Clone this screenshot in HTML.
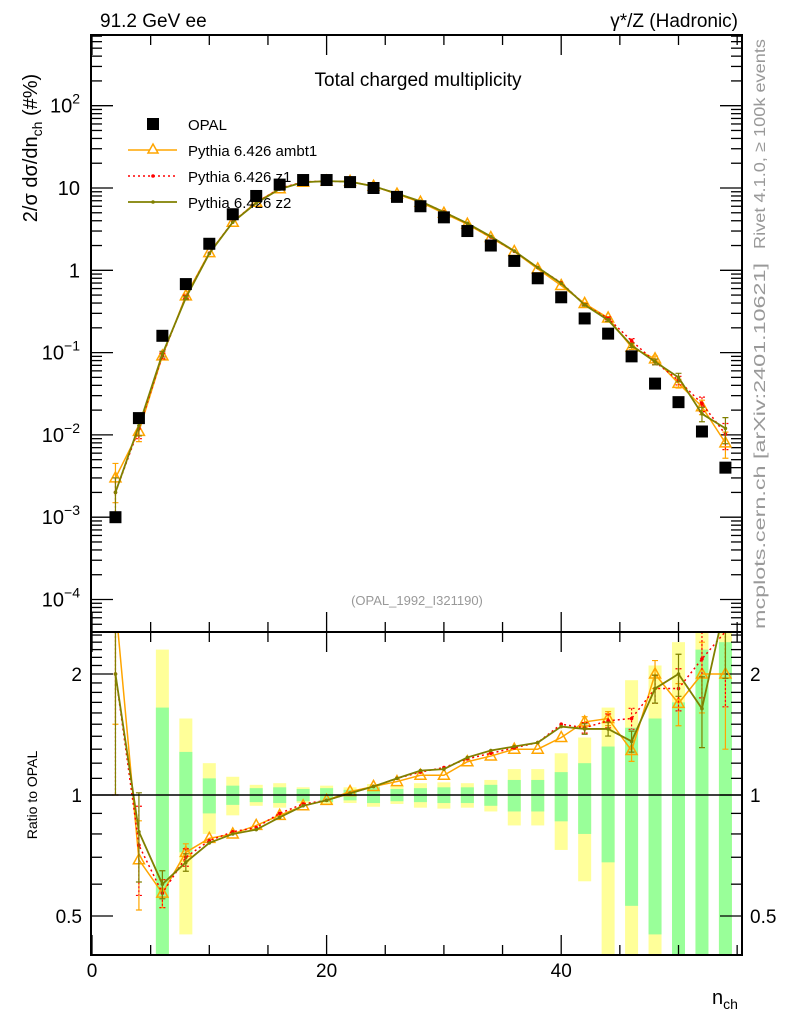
<!DOCTYPE html>
<html><head><meta charset="utf-8"><style>
body{margin:0;background:#fff}
svg{display:block;font-family:"Liberation Sans",sans-serif}
</style></head><body>
<svg id="chart" width="786" height="1024" viewBox="0 0 786 1024" xmlns="http://www.w3.org/2000/svg">
<g id="bands"></g>
<g id="ticks"></g>
<g id="series"></g>
<rect x="91" y="35" width="651" height="597" fill="none" stroke="#000" stroke-width="2"/>
<rect x="91" y="632" width="651" height="323" fill="none" stroke="#000" stroke-width="2"/>
<line x1="91" x2="742" y1="795" y2="795" stroke="#000" stroke-width="1.5"/>
<text x="100" y="27" font-size="19">91.2 GeV ee</text>
<text x="738" y="27" font-size="19" text-anchor="end">γ*/Z (Hadronic)</text>
<text x="418" y="86" font-size="19" text-anchor="middle">Total charged multiplicity</text>
<text x="417" y="605" font-size="13" fill="#999" text-anchor="middle">(OPAL_1992_I321190)</text>
<text transform="translate(37,148) rotate(-90)" font-size="20" text-anchor="middle">2/σ  dσ/dn<tspan font-size="14" dy="5">ch</tspan><tspan dy="-5"> (#%)</tspan></text>
<text transform="translate(37,795) rotate(-90)" font-size="14" text-anchor="middle">Ratio to OPAL</text>
<text transform="translate(765,144) rotate(-90)" font-size="16" fill="#999" text-anchor="middle" textLength="210" lengthAdjust="spacingAndGlyphs">Rivet 4.1.0, ≥ 100k events</text>
<text transform="translate(765,446) rotate(-90)" font-size="16" fill="#999" text-anchor="middle" textLength="366" lengthAdjust="spacingAndGlyphs">mcplots.cern.ch [arXiv:2401.10621]</text>
<text x="712" y="1004" font-size="20">n<tspan font-size="14" dy="5">ch</tspan></text>
<g id="legend">
<rect x="147" y="118" width="12" height="12" fill="#000"/>
<text x="188" y="130" font-size="15">OPAL</text>
<line x1="128" x2="177" y1="150" y2="150" stroke="#FFA500" stroke-width="1.5"/>
<path d="M153,144 L158,153 L148,153 Z" fill="#fff" stroke="#FFA500" stroke-width="1.5"/>
<text x="188" y="156" font-size="15">Pythia 6.426 ambt1</text>
<line x1="128" x2="177" y1="176" y2="176" stroke="#FF0000" stroke-width="1.5" stroke-dasharray="2,3"/>
<circle cx="153" cy="176" r="1.8" fill="#FF0000"/>
<text x="188" y="182" font-size="15">Pythia 6.426 z1</text>
<line x1="128" x2="177" y1="202" y2="202" stroke="#808000" stroke-width="1.8"/>
<circle cx="153" cy="202" r="1.8" fill="#808000"/>
<text x="188" y="208" font-size="15">Pythia 6.426 z2</text>
</g>
</svg>
<script>
const nch = [2,4,6,8,10,12,14,16,18,20,22,24,26,28,30,32,34,36,38,40,42,44,46,48,50,52,54];
const opal = [0.001,0.016,0.16,0.68,2.1,4.8,8,11,12.5,12.5,11.8,10,7.8,6,4.4,3,2,1.3,0.8,0.47,0.26,0.17,0.09,0.042,0.025,0.011,0.004];
const ratioAmbt1 = [3.0,0.69,0.57,0.72,0.78,0.80,0.84,0.89,0.94,0.97,1.02,1.05,1.08,1.12,1.12,1.21,1.25,1.30,1.30,1.39,1.52,1.55,1.29,2.0,1.69,2.0,2.0];
const ratioZ1 = [2.0,0.75,0.57,0.70,0.77,0.81,0.83,0.90,0.95,0.97,1.01,1.05,1.10,1.14,1.17,1.23,1.27,1.31,1.35,1.50,1.47,1.53,1.55,1.84,1.84,2.18,2.55];
const ratioZ2 = [2.0,0.81,0.60,0.68,0.76,0.80,0.82,0.88,0.94,0.97,1.01,1.05,1.10,1.15,1.16,1.24,1.29,1.32,1.35,1.48,1.46,1.46,1.36,1.84,2.0,1.64,3.0];
const mcErr = [0.5,0.25,0.08,0.05,0.02,0.01,0.01,0.01,0.01,0.01,0.01,0.01,0.01,0.01,0.01,0.01,0.01,0.01,0.01,0.02,0.03,0.04,0.06,0.08,0.12,0.2,0.35];
const bandInner = [null,null,0.65,0.28,0.10,0.055,0.04,0.045,0.035,0.04,0.03,0.045,0.035,0.04,0.045,0.045,0.06,0.09,0.09,0.14,0.2,0.32,0.47,0.55,0.7,1.3,1.4];
const bandOuter = [null,null,1.3,0.55,0.20,0.11,0.06,0.07,0.045,0.055,0.045,0.065,0.05,0.07,0.075,0.07,0.09,0.16,0.16,0.27,0.39,0.65,0.93,1.1,1.4,2.0,2.0];
const mainTicks = [{v:100,l:"10",e:"2"},{v:10,l:"10",e:""},{v:1,l:"1",e:""},{v:0.1,l:"10",e:"−1"},{v:0.01,l:"10",e:"−2"},{v:0.001,l:"10",e:"−3"},{v:0.0001,l:"10",e:"−4"}];
const ratioTicks = [2,1,0.5];
const xTicks = [0,20,40];

const NS="http://www.w3.org/2000/svg";
const X0=91,X1=742,MT=35,MB=632,RT=632,RB=955;
const xs=n=>92+11.73*n;
const ym=v=>188-82.3*Math.log10(v/10);
const yr=r=>795-121*Math.log2(r);
const clampM=y=>Math.max(MT,Math.min(MB,y));
const clampR=y=>Math.max(RT,Math.min(RB,y));
function mk(tag,attrs,parent){const e=document.createElementNS(NS,tag);for(const k in attrs)e.setAttribute(k,attrs[k]);parent.appendChild(e);return e;}
const gB=document.getElementById('bands'),gT=document.getElementById('ticks'),gS=document.getElementById('series');

nch.forEach((n,i)=>{
  if(bandOuter[i]==null)return;
  [[bandOuter[i],'#FFFF99'],[bandInner[i],'#99FF99']].forEach(([e,c],k)=>{
    const top=clampR(yr(1+e)),bot=(1-e)>0.05?clampR(yr(1-e)):RB;
    const r=mk('rect',{x:xs(n)-6.5,y:top,width:13,height:bot-top,fill:c},gB);
    
    
  });
});

function tl(x1,y1,x2,y2){const l=mk('line',{x1,y1,x2,y2,stroke:'#000','stroke-width':1.3},gT);

}
for(let d=-5;d<=2;d++){for(let m=1;m<10;m++){const v=m*Math.pow(10,d);const y=ym(v);if(y<MT||y>MB)continue;const L=m==1?22:11;tl(X0,y,X0+L,y);tl(X1,y,X1-L,y);}}
mainTicks.forEach(t=>{const y=ym(t.v);const tx=mk('text',{x:80,y:y+7,'font-size':20,'text-anchor':'end'},gT);tx.textContent=t.l;


if(t.e){const s=mk('tspan',{'font-size':14,dy:-9},tx);s.textContent=t.e;}});
for(let r=0.4;r<=2.55;r+=0.1){const y=yr(r);if(y<RT||y>RB)continue;const maj=Math.abs(r-0.5)<1e-6||Math.abs(r-1)<1e-6||Math.abs(r-2)<1e-6;const L=maj?22:11;tl(X0,y,X0+L,y);tl(X1,y,X1-L,y);}
ratioTicks.forEach(r=>{const y=yr(r);
const a=mk('text',{x:82,y:y+7,'font-size':19,'text-anchor':'end'},gT);a.textContent=r;


const b=mk('text',{x:750,y:y+7,'font-size':19},gT);b.textContent=r;

});
for(let n=0;n<=55;n+=5){const x=xs(n);const L=n%20==0?20:10;tl(x,MT,x,MT+L);tl(x,RT,x,RT+L);tl(x,RB,x,RB-L);tl(x,RT,x,RT-L);}
xTicks.forEach(n=>{const t=mk('text',{x:xs(n),y:977,'font-size':19,'text-anchor':'middle'},gT);t.textContent=n;

});

const series=[{r:ratioAmbt1,c:'#FFA500',dash:null,tri:true,name:'ambt1',w:1.5},{r:ratioZ1,c:'#FF0000',dash:'2,3',tri:false,name:'z1',w:1.5},{r:ratioZ2,c:'#808000',dash:null,tri:false,name:'z2',w:1.8}];
series.forEach(s=>{
  const mp=[],rp=[];
  nch.forEach((n,i)=>{const v=opal[i]*s.r[i];mp.push([xs(n),ym(v)]);rp.push([xs(n),yr(s.r[i])]);});
  [[mp,'main'],[rp,'ratio']].forEach(([pts,pn])=>{
    const p=mk('polyline',{points:pts.map(q=>q.join(',')).join(' '),fill:'none',stroke:s.c,'stroke-width':s.w},gS);
    if(s.dash)p.setAttribute('stroke-dasharray',s.dash);
    
    
    p.setAttribute('clip-path',pn=='main'?'url(#cm)':'url(#cr)');
  });
  nch.forEach((n,i)=>{
    const e=mcErr[i];const x=xs(n);
    const v=opal[i]*s.r[i];
    const segs=[[ym(v*(1+e)),ym(Math.max(v*(1-e),1e-6)),clampM],[yr(s.r[i]*(1+e)),yr(Math.max(s.r[i]*(1-e),0.01)),clampR]];
    segs.forEach(([a,b,cl])=>{
      if(e<0.03)return;
      const y1=cl(a),y2=cl(b);
      const l=mk('path',{d:`M${x},${y1}V${y2}M${x-3},${y1}h6M${x-3},${y2}h6`,stroke:s.c,'stroke-width':1.2,fill:'none'},gS);
      if(s.dash)l.setAttribute('stroke-dasharray','2,2');
      
      
    });
    [[x,ym(v),MT,MB],[x,yr(s.r[i]),RT,RB]].forEach(([px,py,t,bt],k)=>{
      if(py<t||py>bt)return;
      let m;
      if(s.tri){m=mk('path',{d:`M${px},${py-6}L${px+5.5},${py+4}L${px-5.5},${py+4}Z`,fill:'#fff','fill-opacity':0,stroke:s.c,'stroke-width':1.5},gS);}
      else{m=mk('circle',{cx:px,cy:py,r:1.8,fill:s.c},gS);}
      
      
    });
  });
});
nch.forEach((n,i)=>{const y=ym(opal[i]);if(y<MT||y>MB)return;
const r=mk('rect',{x:xs(n)-6,y:y-6,width:12,height:12,fill:'#000'},gS);

});
const defs=mk('defs',{},document.getElementById('chart'));
const c1=mk('clipPath',{id:'cm'},defs);mk('rect',{x:X0,y:MT,width:X1-X0,height:MB-MT},c1);
const c2=mk('clipPath',{id:'cr'},defs);mk('rect',{x:X0,y:RT,width:X1-X0,height:RB-RT},c2);
</script>
</body></html>
